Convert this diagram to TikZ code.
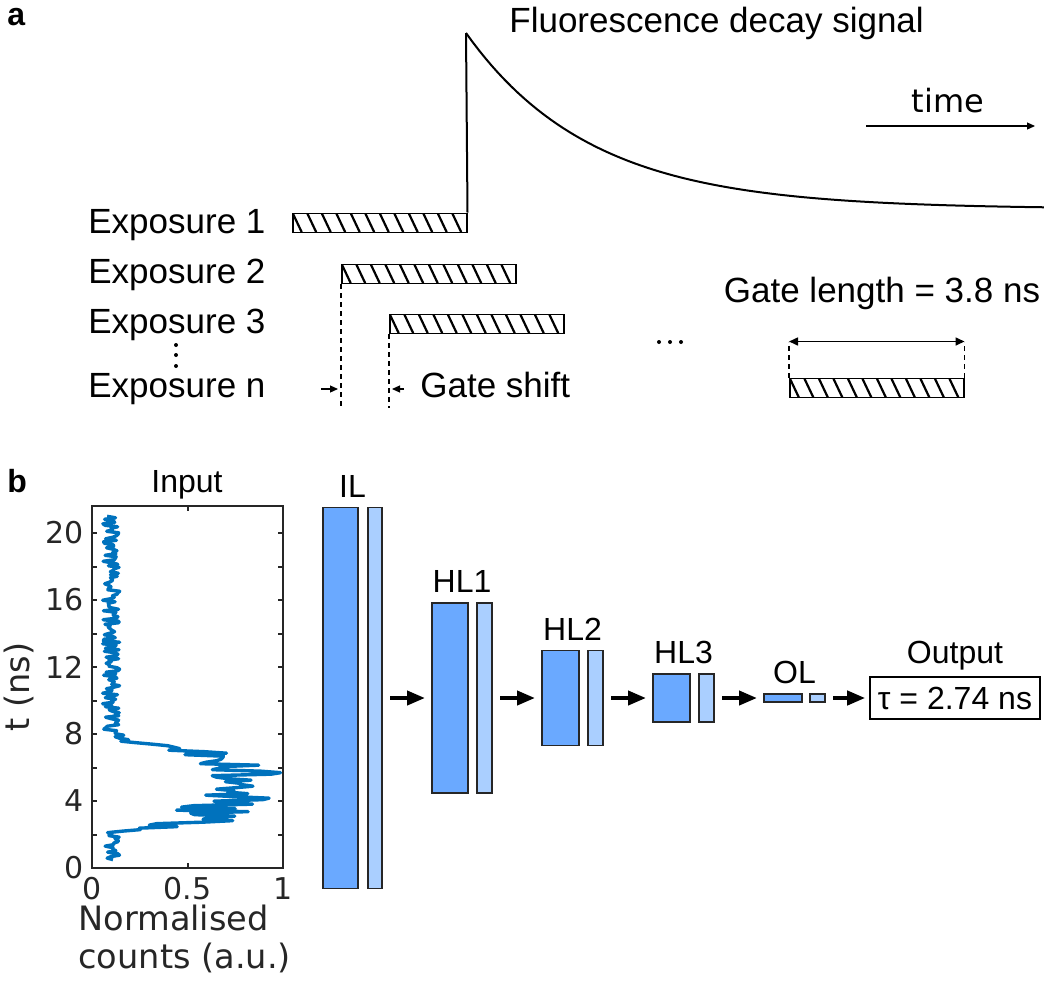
\documentclass[tikz,border=0pt]{standalone}
\usepackage{fontspec}
\setmainfont{Liberation Sans}
\newfontfamily\dejavu{DejaVu Sans}
\usetikzlibrary{arrows.meta,positioning,calc}
\definecolor{layerdark}{HTML}{6AA9FF}
\definecolor{layerlight}{HTML}{AACFFF}
\definecolor{matblue}{HTML}{0072BD}
\definecolor{axisgray}{HTML}{262626}

\begin{document}
\begin{tikzpicture}[x=0.5pt,y=-0.5pt,
  lbl/.style={font=\fontsize{17.5}{21}\selectfont, inner sep=0pt},
  panellbl/.style={font=\fontsize{16}{19}\selectfont\bfseries, inner sep=0pt},
  netlbl/.style={font=\fontsize{16}{19}\selectfont, inner sep=0pt},
  ticklbl/.style={font=\dejavu\fontsize{15}{18}\selectfont, text=axisgray, inner sep=0pt},
  axlbl/.style={font=\dejavu\fontsize{16.8}{20}\selectfont, text=axisgray, inner sep=0pt},
  gatebar/.style={draw, line width=0.75pt, inner sep=0pt, minimum width=87pt, minimum height=9.5pt,
    path picture={\foreach \k in {-1,...,12}{
      \draw[line width=1.1pt] ([xshift=\k*7.25pt]path picture bounding box.north west) -- ++(4.5pt,-9.5pt);}}},
  gateline/.style={line width=0.8pt, dash pattern=on 2.5pt off 2pt},
  tip/.style={line width=0.6pt, -{Triangle[length=4pt,width=3.5pt]}},
  signal/.style={line width=1pt},
  darkblk/.style={draw=black!85, line width=0.9pt, fill=layerdark, inner sep=0pt, outer sep=0pt},
  lightblk/.style={draw=black!85, line width=0.9pt, fill=layerlight, inner sep=0pt, outer sep=0pt},
  netarrow/.style={line width=2pt, -{Triangle[length=9pt,width=7pt]}, shorten <=4pt, shorten >=3.5pt},
  declare function={
    bump(\t)=1/(1+exp(min(9,-(\t-2.45)*9)))/(1+exp(min(9,(\t-7.2)*4)));
    lev(\t)=0.5+0.32*exp(-((\t-5.3)/2)^2);
    cnt(\t)=min(0.99,max(0.02,0.1+bump(\t)*(lev(\t)-0.1)+(0.045+0.15*bump(\t))*rand));}
]
\useasboundingbox (0,0) rectangle (1044,1007);

% panel a
\node[panellbl, anchor=base west] (pa) at (7,25) {a};
\node[lbl, anchor=base west] (title) at (509,32) {Fluorescence decay signal};
\foreach \i/\y in {1/233,2/283,3/333,n/397}{
  \node[lbl, anchor=base west] (exp\i) at (88,\y) {Exposure \i};
}
\foreach \y in {345,355,366}{
  \fill (176,\y) circle (1pt);
}
\node[gatebar, anchor=south west] (bar1) at (292,233) {};
\node[gatebar, anchor=south west] (bar2) at (341,284) {};
\node[gatebar, anchor=south west] (bar3) at (389,334) {};
\node[gatebar, anchor=south west] (bar4) at (789,398) {};

% decay signal
\coordinate (peak) at (466,33);
\draw[signal] (bar1.north east) -- (peak);
\draw[signal] plot[domain=466:1044, samples=90] (\x,{209-176*exp(-(\x-466)/125)});
\node[lbl, font=\dejavu\fontsize{16}{19}\selectfont, anchor=base] (timelbl) at (948,112) {time};
\coordinate (t0) at (866,126);
\coordinate (t1) at (1035,126);
\draw[tip] (t0) -- (t1);

% gate shift
\coordinate (gs) at (0,408);
\coordinate (gsL) at (341,389);
\coordinate (gsR) at (389,389);
\draw[gateline] (bar2.south west) -- (bar2.south west |- gs);
\draw[gateline] (bar3.south west) -- (bar3.south west |- gs);
\node[lbl, anchor=base west] (gstxt) at (420,397) {Gate shift};
\draw[tip] ([xshift=-10pt]gsL) -- ([xshift=-1.5pt]gsL);
\draw[tip] ([xshift=-8pt]gstxt.west |- gsR) -- ([xshift=1.5pt]gsR);

% gate length
\foreach \x in {659,670,681}{
  \fill (\x,342) circle (1pt);
}
\node[lbl, anchor=base] (gltxt) at (882,302) {Gate length = 3.8 ns};
\draw[gateline] (bar4.north west) -- ([yshift=18pt]bar4.north west);
\draw[gateline] (bar4.north east) -- ([yshift=18pt]bar4.north east);
\draw[line width=0.8pt, {Triangle[length=4.5pt,width=4pt]}-{Triangle[length=4.5pt,width=4pt]}] ([yshift=18pt]bar4.north west) -- ([yshift=18pt]bar4.north east);

% panel b
\node[panellbl, anchor=base west] (pb) at (7,492) {b};
\node[netlbl, anchor=base] (inputlbl) at (187,492) {Input};
\begin{scope}[shift={(92,868)}, x=95.5pt, y=8.375pt]
  \pgfmathsetseed{7}
  \draw[matblue, line width=1.7pt, line join=round] plot[variable=\t, domain=0.5:21, samples=230] ({cnt(\t)},\t);
  \draw[axisgray, line width=1pt] (0,0) rectangle (1,21.6);
  \foreach \t in {0,2,...,20}{
    \draw[axisgray, line width=1pt] (0,\t) -- ++(2.5pt,0);
    \draw[axisgray, line width=1pt] (1,\t) -- ++(-2.5pt,0);
  }
  \foreach \t in {0,4,...,20}{
    \node[ticklbl, anchor=east] at ([xshift=-4pt]0,\t) {\t};
  }
  \foreach \c in {0,0.5,1}{
    \draw[axisgray, line width=1pt] (\c,0) -- ++(0,2.5pt);
    \draw[axisgray, line width=1pt] (\c,21.6) -- ++(0,-2.5pt);
    \node[ticklbl, anchor=north] at ([yshift=-4.5pt]\c,0) {\c};
  }
\end{scope}
\node[axlbl, anchor=base, rotate=90] (ylbl) at (29,687) {t (ns)};
\node[axlbl, anchor=base west] (xlbl1) at (78,930) {Normalised};
\node[axlbl, anchor=base west] (xlbl2) at (78,968) {counts (a.u.)};

% network layers
\foreach \n/\x/\h/\wa/\wb/\g in {IL/323/381/35/14/5, HL1/432/190/36/15/4.5, HL2/542/95/37/15/4.5, HL3/653/48/37/15/4.5, OL/764/8/38/15/4}{
  \node[darkblk, minimum width=\wa*0.5pt, minimum height=\h*0.5pt, anchor=west] (\n dark) at (\x,698) {};
  \node[lightblk, minimum width=\wb*0.5pt, minimum height=\h*0.5pt, right=\g pt of \n dark] (\n light) {};
  \coordinate (\n top) at ($(\n dark.north west)!0.5!(\n light.north east)$);
  \node[netlbl, above=5pt of \n top] (\n lbl) {\n};
}
\foreach \a/\b in {IL/HL1,HL1/HL2,HL2/HL3,HL3/OL}{
  \draw[netarrow] (\a light) -- (\b dark);
}
\node[draw, line width=0.8pt, netlbl, minimum width=85pt, minimum height=21pt] (outbox) at (955,698) {τ = 2.74 ns};
\node[netlbl, text depth=0pt, above=6pt of outbox] (outlbl) {Output};
\draw[netarrow, shorten <=4pt, shorten >=2pt] (OLlight) -- (outbox);
\end{tikzpicture}
\end{document}
